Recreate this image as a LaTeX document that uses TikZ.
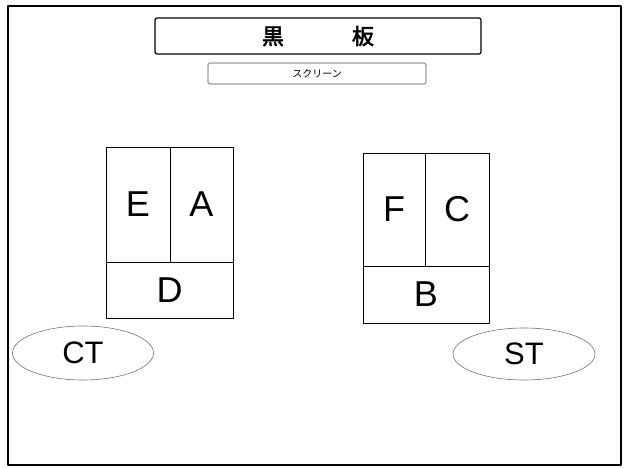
\documentclass[tikz,border=0pt]{standalone}
\usepackage{fontspec}
\setmainfont{Liberation Sans}
\newfontfamily\cjk[AutoFakeBold=2.5]{Noto Sans CJK JP}
\usetikzlibrary{shapes.geometric}

\begin{document}
\begin{tikzpicture}[line cap=round,line join=round,x=1pt,y=-1pt,
	seat/.style={draw=black,line width=0.6pt,rectangle,inner sep=0pt,outer sep=0pt,font=\fontsize{36}{36}\selectfont},
	desk/.style={draw=black!55,line width=0.6pt,ellipse,inner sep=0pt,outer sep=0pt,font=\fontsize{31}{31}\selectfont}]
		\useasboundingbox (0,0) rectangle (625,468);
		% room
		\draw [line width=2pt] (8,6) rectangle (621,465);
		% front
		\node [draw=black,line width=1.2pt,rounded corners=2pt,minimum width=326pt,minimum height=36pt,inner sep=0pt,font=\cjk\bfseries\fontsize{22}{22}\selectfont] (board) at (318,36) {黒\hspace{68pt}板};
		\node [draw=black!70,line width=0.6pt,rounded corners=1.5pt,minimum width=218pt,minimum height=21pt,inner sep=0pt,font=\cjk\fontsize{10}{10}\selectfont] (screen) at (317,73.5) {スクリーン};
		% left group
		\node [seat,minimum width=64pt,minimum height=115pt] (E) at (138,204.5) {E};
		\node [seat,minimum width=63pt,minimum height=115pt] (A) at (201.5,204.5) {A};
		\node [seat,minimum width=127pt,minimum height=56pt] (D) at (169.5,290) {D};
		% right group
		\node [seat,minimum width=62pt,minimum height=113pt] (F) at (394,209.5) {F};
		\node [seat,minimum width=64pt,minimum height=113pt] (C) at (457,209.5) {C};
		\node [seat,minimum width=126pt,minimum height=57pt] (B) at (426,294.5) {B};
		% teachers
		\node [desk,minimum width=141pt,minimum height=54pt] (CT) at (83,353) {CT};
		\node [desk,minimum width=142pt,minimum height=52pt] (ST) at (524,354) {ST};
	\end{tikzpicture}
\end{document}
